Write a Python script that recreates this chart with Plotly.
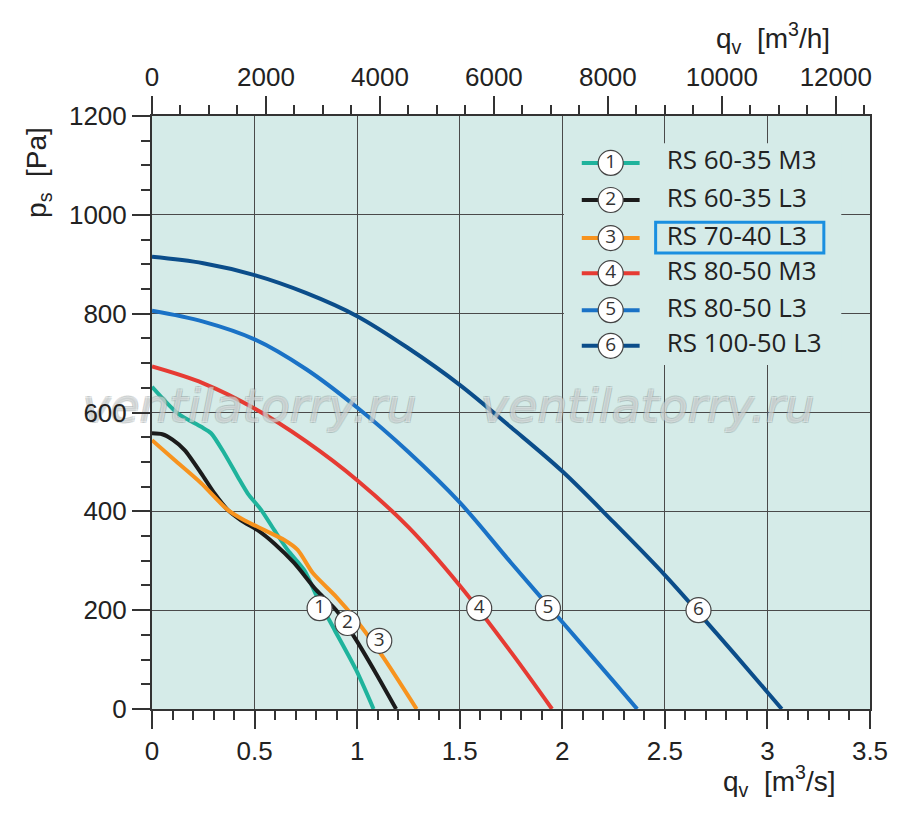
import plotly.graph_objs as go

# fan curves: flow q [m3/s], static pressure p [Pa]
q1 = [0, 0.126, 0.24, 0.288, 0.353, 0.418, 0.467, 0.532, 0.596, 0.661, 0.742, 0.81, 0.89, 0.995, 1.08]
p1 = [652, 598, 571, 558, 517, 470, 436, 403, 362, 322, 281, 222, 160, 79, 0]

q2 = [0, 0.05, 0.10, 0.159, 0.24, 0.305, 0.369, 0.434, 0.515, 0.596, 0.694, 0.80, 0.898, 0.995, 1.092, 1.19]
p2 = [558, 556, 545, 524, 477, 436, 403, 382, 362, 335, 295, 241, 200, 140, 72, 0]

q3 = [0, 0.11, 0.24, 0.369, 0.45, 0.548, 0.645, 0.71, 0.784, 0.898, 0.995, 1.125, 1.29]
p3 = [544, 504, 457, 403, 382, 362, 342, 322, 275, 227, 180, 106, 0]

q4 = [0, 0.25, 0.5, 0.75, 1.0, 1.25, 1.5, 1.75, 1.95]
p4 = [693, 659, 608, 542, 463, 368, 250, 115, 0]

q5 = [0, 0.25, 0.5, 0.75, 1.0, 1.25, 1.5, 1.75, 2.0, 2.25, 2.365]
p5 = [806, 784, 748, 688, 610, 520, 418, 296, 176, 56, 0]

q6 = [0, 0.25, 0.5, 0.75, 1.0, 1.25, 1.5, 1.75, 2.0, 2.25, 2.5, 2.75, 3.0, 3.07]
p6 = [915, 902, 878, 842, 795, 730, 656, 570, 481, 378, 271, 154, 34, 0]

names = ["RS 60-35 M3", "RS 60-35 L3", "RS 70-40 L3", "RS 80-50 M3", "RS 80-50 L3", "RS 100-50 L3"]
colors = ["#1fb39c", "#1b1b1b", "#f7931e", "#e63b33", "#1a72c6", "#0b4d8a"]
smooth = [0.7, 0.7, 0.7, 1.0, 1.0, 1.0]

# numbered markers on the curves
label_q = [0.817, 0.953, 1.108, 1.595, 1.93, 2.664]
label_p = [204, 174, 138, 204, 204, 200]

# tick labels
q_ticks = [0, 0.5, 1, 1.5, 2, 2.5, 3, 3.5]
q_ticktext = ["0", "0.5", "1", "1.5", "2", "2.5", "3", "3.5"]
qh_ticks = [0, 2000, 4000, 6000, 8000, 10000, 12000]
qh_ticktext = ["0", "2000", "4000", "6000", "8000", "10000", "12000"]

BG = "#d5ebe8"
GRID = "#4a4a4a"
TICKFONT = dict(family="Liberation Sans, Arial", size=26, color="#222222")

curves = [(q1, p1), (q2, p2), (q3, p3), (q4, p4), (q5, p5), (q6, p6)]

fig = go.Figure()

for (q, p), c, s in zip(curves, colors, smooth):
    fig.add_trace(go.Scatter(x=q, y=p, mode="lines", showlegend=False, hoverinfo="skip",
                             line=dict(color=c, width=4, shape="spline", smoothing=s)))

# invisible trace so the m3/h axis gets drawn
fig.add_trace(go.Scatter(x=[v * 3600 for v in q6], y=p6, xaxis="x2", mode="lines",
                         line=dict(width=0), showlegend=False, hoverinfo="skip"))

# site watermark, sits under the tick labels
fig.add_trace(go.Scatter(x=[0.476, 2.416], y=[605, 605], mode="text",
                         text=["ventilatorry.ru", "ventilatorry.ru"], cliponaxis=False,
                         textposition="middle center",
                         textfont=dict(family="DejaVu Sans", size=47, style="italic",
                                       color="rgba(255,255,255,0.45)",
                                       shadow="1px 1px 0 rgba(130,140,140,0.55), "
                                              "-1px -1px 0 rgba(130,140,140,0.55), "
                                              "1px -1px 0 rgba(130,140,140,0.55), "
                                              "-1px 1px 0 rgba(130,140,140,0.55)"),
                         showlegend=False, hoverinfo="skip"))

circle = dict(symbol="circle", size=25, color="white", line=dict(color="#444444", width=1.2))
numfont = dict(family="Open Sans", size=19, color="#333333")
nums = [str(i + 1) for i in range(6)]

fig.add_trace(go.Scatter(x=label_q, y=label_p, mode="markers+text", text=nums,
                         textposition="middle center", marker=circle, textfont=numfont,
                         showlegend=False, hoverinfo="skip"))

# hand-drawn legend inside the plot
leg_x0, leg_x1, leg_txt = 2.095, 2.377, 2.509
leg_rows = [1105, 1030, 953, 882, 807, 735]
for row, c in zip(leg_rows, colors):
    fig.add_trace(go.Scatter(x=[leg_x0, leg_x1], y=[row, row], mode="lines",
                             line=dict(color=c, width=4), showlegend=False, hoverinfo="skip"))
fig.add_trace(go.Scatter(x=[(leg_x0 + leg_x1) / 2] * 6, y=leg_rows, mode="markers+text",
                         text=nums, textposition="middle center", marker=circle,
                         textfont=numfont, showlegend=False, hoverinfo="skip"))
fig.add_trace(go.Scatter(x=[leg_txt] * 6, y=leg_rows, mode="text", text=names,
                         textposition="middle right",
                         textfont=dict(family="Open Sans", size=26, color="#222222"),
                         showlegend=False, hoverinfo="skip"))

tick_common = dict(ticks="outside", ticklen=18, tickcolor="#333333", tickwidth=1.5,
                   zeroline=False, showline=True, linecolor="#333333", linewidth=2,
                   tickfont=TICKFONT)

fig.update_layout(
    width=892, height=808,
    margin=dict(l=144, r=28, t=108, b=107),
    paper_bgcolor="white", plot_bgcolor=BG,
    xaxis=dict(range=[0, 3.5], tickmode="array", tickvals=q_ticks, ticktext=q_ticktext,
               showgrid=True, gridcolor=GRID, gridwidth=1.3,
               minor=dict(dtick=0.1, ticks="outside", ticklen=9, tickcolor="#333333",
                          showgrid=False),
               **tick_common),
    xaxis2=dict(range=[0, 12600], tickmode="array", tickvals=qh_ticks, ticktext=qh_ticktext,
                overlaying="x", side="top", showgrid=False,
                minor=dict(dtick=500, ticks="outside", ticklen=9, tickcolor="#333333"),
                **tick_common),
    yaxis=dict(range=[0, 1200], dtick=200, showgrid=True, gridcolor=GRID, gridwidth=1.3,
               mirror=True,
               minor=dict(dtick=50, ticks="outside", ticklen=9, tickcolor="#333333",
                          showgrid=False),
               **tick_common),
)

fig.update_layout(shapes=[
    # legend background hides the grid
    dict(type="rect", xref="x", yref="y", x0=2.008, x1=3.36, y0=696, y1=1145,
         fillcolor=BG, line=dict(width=0), layer="between"),
    # highlight around RS 70-40 L3
    dict(type="rect", xref="x", yref="y", x0=2.455, x1=3.275, y0=923, y1=985,
         line=dict(color="#1a8fe0", width=3), layer="above"),
])

axis_font = dict(family="Liberation Sans, Arial", size=28, color="#222222")
fig.update_layout(annotations=[
    dict(text="q<sub>v</sub>  [m<sup>3</sup>/s]", xref="paper", yref="paper", x=0.793, y=-0.122,
         xanchor="left", yanchor="middle", showarrow=False, font=axis_font),
    dict(text="q<sub>v</sub>  [m<sup>3</sup>/h]", xref="paper", yref="paper", x=0.783, y=1.131,
         xanchor="left", yanchor="middle", showarrow=False, font=axis_font),
    dict(text="p<sub>s</sub>  [Pa]", xref="paper", yref="paper", x=-0.158, y=0.905,
         xanchor="center", yanchor="middle", textangle=-90, showarrow=False, font=axis_font),
])

fig.write_html("out.html")
